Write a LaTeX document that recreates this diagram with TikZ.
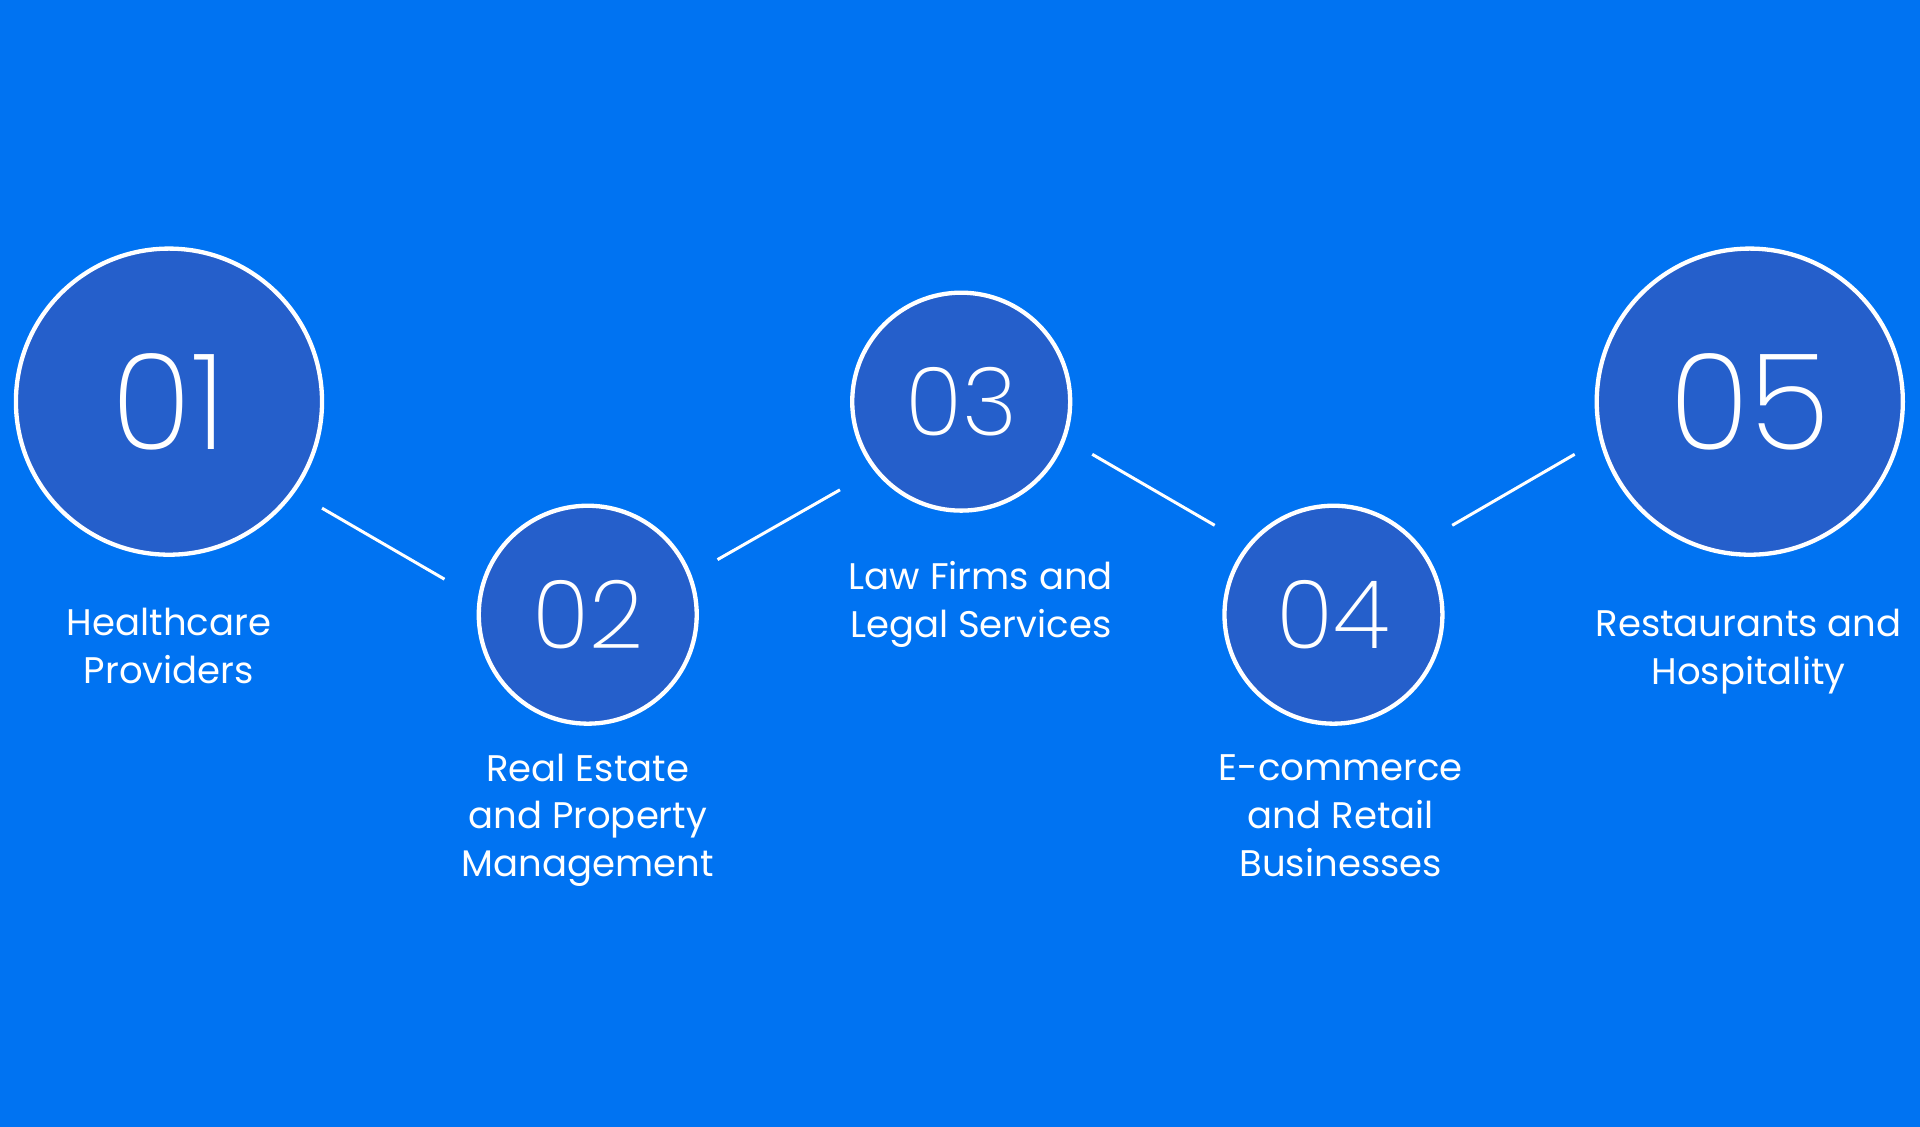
\documentclass[tikz,border=0pt]{standalone}
\usepackage{fontspec}
\setmainfont{Poppins}
\newfontfamily\thinfont{Poppins ExtraLight}
\definecolor{bg}{HTML}{0073F2}
\definecolor{cf}{HTML}{255FCB}
\begin{document}
\begin{tikzpicture}[x=0.01cm,y=-0.01cm,
  circ/.style={circle,draw=white,line width=1pt,fill=cf,inner sep=0pt},
  big/.style={circ,minimum size=250*0.01cm,font=\thinfont\fontsize{31}{31}\selectfont,text=white},
  small/.style={circ,minimum size=178*0.01cm,font=\thinfont\fontsize{22}{22}\selectfont,text=white},
  lbl/.style={text=white,align=center,font=\fontsize{8.6}{11.1}\selectfont,anchor=north},
  conn/.style={white,line width=0.7pt}]
\fill[bg] (0,0) rectangle (1568,920);
\useasboundingbox (0,0) rectangle (1568,920);
\node[big] (n1) at (138,328) {01};
\node[small] (n2) at (480,502) {02};
\node[small] (n3) at (785,328) {03};
\node[small] (n4) at (1089,502) {04};
\node[big] (n5) at (1429,328) {05};
\node[lbl] (l1) at (138,484) {Healthcare\\Providers};
\node[lbl] (l2) at (480,603) {Real Estate\\and Property\\Management};
\node[lbl] (l3) at (801,446) {Law Firms and\\Legal Services};
\node[lbl] (l4) at (1095,604) {E-commerce\\and Retail\\Businesses};
\node[lbl] (l5) at (1428,485) {Restaurants and\\Hospitality};
\coordinate (a1) at (263,415); \coordinate (b1) at (363,473);
\coordinate (a2) at (586,457); \coordinate (b2) at (686,400);
\coordinate (a3) at (892,371); \coordinate (b3) at (992,429);
\coordinate (a4) at (1186,429); \coordinate (b4) at (1286,371);
\draw[conn] (a1) -- (b1);
\draw[conn] (a2) -- (b2);
\draw[conn] (a3) -- (b3);
\draw[conn] (a4) -- (b4);
\end{tikzpicture}
\end{document}
